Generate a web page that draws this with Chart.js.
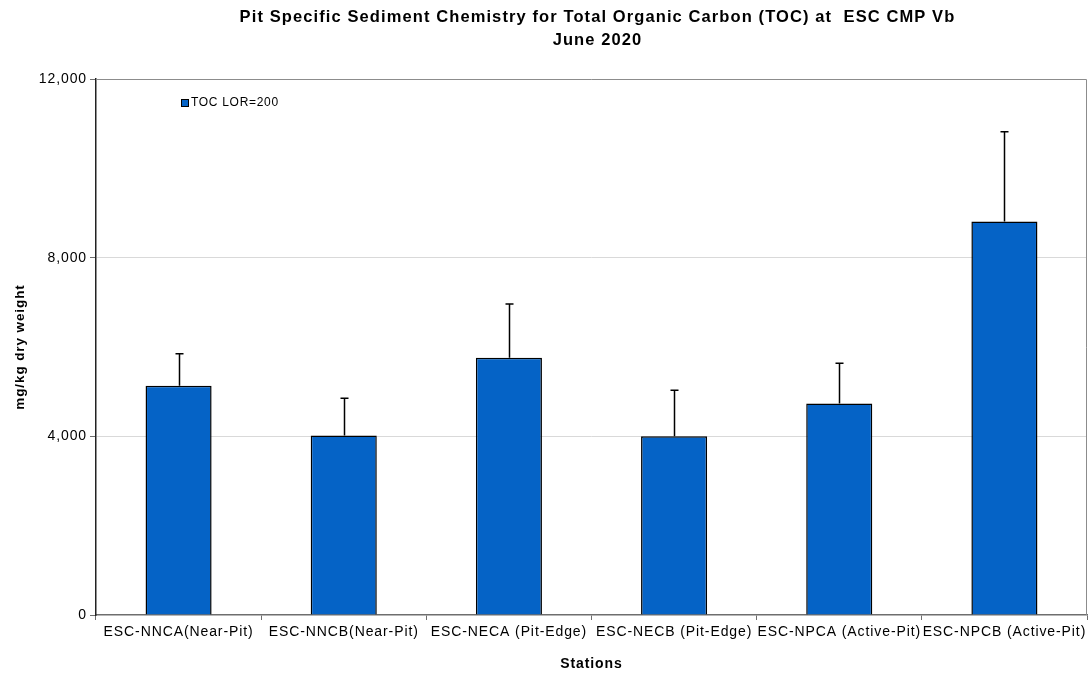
<!DOCTYPE html>
<html>
<head>
<meta charset="utf-8">
<script src="https://cdn.jsdelivr.net/npm/chart.js@4/dist/chart.umd.min.js"></script>
<style>
  html, body { margin: 0; padding: 0; background: #ffffff; }
  #wrap { width: 1091px; height: 673px; }
</style>
</head>
<body>
<div id="wrap"><canvas id="toc"></canvas></div>
<script>
// Stations and mean TOC (mg/kg dry weight) with the upper error extent
const stations = [
  'ESC-NNCA(Near-Pit)',
  'ESC-NNCB(Near-Pit)',
  'ESC-NECA (Pit-Edge)',
  'ESC-NECB (Pit-Edge)',
  'ESC-NPCA (Active-Pit)',
  'ESC-NPCB (Active-Pit)'
];
const tocMean = [5130, 4017, 5757, 4003, 4733, 8811];
const tocErrorTop = [5847, 4854, 6960, 5033, 5638, 10820];
const yTicks = [0, 4000, 8000, 12000];
const seriesLabel = 'TOC LOR=200';
const titleLines = [
  'Pit Specific Sediment Chemistry for Total Organic Carbon (TOC) at  ESC CMP Vb',
  'June 2020'
];

const FONT = '"Liberation Sans", Arial, sans-serif';

// Slightly open text tracking for every label drawn on the canvas
const trackingPlugin = {
  id: 'tracking',
  beforeInit(chart) { chart.ctx.letterSpacing = '0.9px'; },
  beforeLayout(chart) { chart.ctx.letterSpacing = '0.9px'; }
};

// Gray frame on the top and right of the plot area
const framePlugin = {
  id: 'frame',
  beforeDatasetsDraw(chart) {
    const { ctx, chartArea: a } = chart;
    ctx.save();
    ctx.strokeStyle = '#8c8c8c';
    ctx.lineWidth = 1;
    ctx.beginPath();
    ctx.moveTo(a.left, a.top + 0.5);
    ctx.lineTo(a.right - 0.5, a.top + 0.5);
    ctx.lineTo(a.right - 0.5, a.bottom);
    ctx.stroke();
    ctx.restore();
  }
};

// Upward error whiskers with a small cap
const errorBarPlugin = {
  id: 'errorBars',
  afterDatasetsDraw(chart) {
    const { ctx } = chart;
    const meta = chart.getDatasetMeta(0);
    const y = chart.scales.y;
    ctx.save();
    ctx.strokeStyle = '#000000';
    ctx.lineWidth = 1.5;
    meta.data.forEach((bar, i) => {
      const x = Math.round(bar.x) + 0.5;
      const yTop = y.getPixelForValue(tocErrorTop[i]);
      const yBase = y.getPixelForValue(tocMean[i]);
      ctx.beginPath();
      ctx.moveTo(x, yBase);
      ctx.lineTo(x, yTop);
      ctx.moveTo(x - 4, yTop);
      ctx.lineTo(x + 4, yTop);
      ctx.stroke();
    });
    ctx.restore();
  }
};

// Two-line title centred over the plot area, plus the inline legend key
const headerPlugin = {
  id: 'header',
  afterDraw(chart) {
    const { ctx, chartArea: a } = chart;
    const cx = (a.left + a.right) / 2 + 6;
    ctx.save();
    ctx.fillStyle = '#000000';
    ctx.textAlign = 'center';
    ctx.textBaseline = 'middle';
    ctx.letterSpacing = '1.1px';
    ctx.font = 'bold 16.5px ' + FONT;
    ctx.fillText(titleLines[0], cx, 17);
    ctx.fillText(titleLines[1], cx, 40);

    // legend key
    const lx = a.left + 85, ly = a.top + 24;
    ctx.fillStyle = '#0563c6';
    ctx.fillRect(lx, ly - 3.5, 7, 7);
    ctx.strokeStyle = '#000000';
    ctx.lineWidth = 1;
    ctx.strokeRect(lx + 0.5, ly - 3.5, 7, 7);
    ctx.fillStyle = '#000000';
    ctx.textAlign = 'left';
    ctx.letterSpacing = '0.7px';
    ctx.font = '12px ' + FONT;
    ctx.fillText(chart.data.datasets[0].label, lx + 10, ly);
    ctx.restore();
  }
};

new Chart(document.getElementById('toc'), {
  type: 'bar',
  data: {
    labels: stations,
    datasets: [{
      label: seriesLabel,
      data: tocMean,
      backgroundColor: '#0563c6',
      borderColor: '#000000',
      borderWidth: 1.5,
      barPercentage: 0.4,
      categoryPercentage: 1.0
    }]
  },
  options: {
    responsive: true,
    maintainAspectRatio: false,
    animation: false,
    devicePixelRatio: 1,
    layout: { padding: { top: 79, right: 4, left: 0, bottom: 0 } },
    plugins: {
      legend: { display: false },
      title: { display: false },
      tooltip: { enabled: false }
    },
    scales: {
      x: {
        offset: true,
        grid: {
          offset: true,
          drawOnChartArea: false,
          drawTicks: true,
          tickLength: 5,
          color: '#6e6e6e'
        },
        border: { color: '#6e6e6e', width: 1.5 },
        ticks: {
          color: '#000000',
          font: { family: FONT, size: 14 },
          maxRotation: 0,
          autoSkip: false,
          padding: 4
        },
        title: {
          display: true,
          text: 'Stations',
          color: '#000000',
          font: { family: FONT, size: 14, weight: 'bold' },
          padding: { top: 9, bottom: 0 }
        },
        afterFit(scale) { scale.height = 58; }
      },
      y: {
        min: 0,
        max: 12000,
        afterBuildTicks(scale) { scale.ticks = yTicks.map(v => ({ value: v })); },
        grid: {
          color: (c) => (c.tick && (c.tick.value === 0 || c.tick.value === 12000)) ? 'rgba(0,0,0,0)' : '#d9d9d9',
          tickColor: '#6e6e6e',
          drawTicks: true,
          tickLength: 6
        },
        border: { color: '#222222', width: 1.5 },
        ticks: {
          color: '#000000',
          font: { family: FONT, size: 14 },
          padding: 3,
          callback: (v) => Number(v).toLocaleString('en-US')
        },
        title: {
          display: true,
          text: 'mg/kg dry weight',
          color: '#000000',
          font: { family: FONT, size: 13.5, weight: 'bold' },
          padding: { top: 12, bottom: 0 }
        },
        afterFit(scale) { scale.width = 96; }
      }
    }
  },
  plugins: [trackingPlugin, framePlugin, errorBarPlugin, headerPlugin]
});
</script>
</body>
</html>
